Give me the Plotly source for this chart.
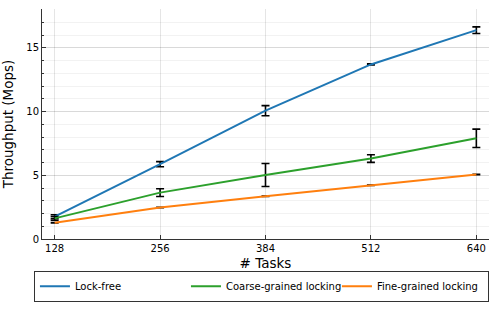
import plotly.graph_objects as go

tasks = [128, 256, 384, 512, 640]

lock_free = [1.75, 5.87, 10.07, 13.70, 16.39]
lock_free_err = [0.15, 0.2, 0.4, 0.05, 0.26]

coarse = [1.62, 3.64, 5.02, 6.31, 7.90]
coarse_err = [0.15, 0.3, 0.9, 0.3, 0.72]

fine = [1.28, 2.47, 3.35, 4.22, 5.06]
fine_err = [0.02, 0.02, 0.02, 0.02, 0.02]

series = [
    ("Lock-free", lock_free, lock_free_err, "#1f77b4"),
    ("Coarse-grained locking", coarse, coarse_err, "#2ca02c"),
    ("Fine-grained locking", fine, fine_err, "#ff7f0e"),
]

fig = go.Figure()
for name, vals, errs, color in series:
    fig.add_trace(go.Scatter(
        x=tasks,
        y=vals,
        name=name,
        mode="lines",
        line=dict(color=color, width=2),
        error_y=dict(type="data", array=errs, visible=True,
                     color="black", thickness=1.6, width=4),
    ))

fig.update_layout(
    width=498,
    height=332,
    paper_bgcolor="white",
    plot_bgcolor="white",
    font=dict(family="DejaVu Sans", size=10, color="black"),
    margin=dict(l=42, r=9, t=9, b=93, autoexpand=False),
    showlegend=True,
    legend=dict(
        orientation="h",
        x=-0.018, xanchor="left",
        y=-0.138, yanchor="top",
        entrywidth=106, entrywidthmode="pixels",
        bordercolor="#333", borderwidth=1,
        font=dict(size=10),
    ),
    xaxis=dict(
        range=[112.64, 655.36],
        tickvals=tasks,
        ticks="inside", ticklen=4, tickcolor="#333",
        showline=True, linecolor="#333", linewidth=1,
        showgrid=True, gridcolor="rgba(0,0,0,0.1)", gridwidth=0.5,
        zeroline=False, automargin=False,
        title=dict(text="# Tasks", font=dict(size=13.5), standoff=5),
    ),
    yaxis=dict(
        range=[0, 18.05],
        tickvals=[0, 5, 10, 15],
        ticks="inside", ticklen=4, tickcolor="#333",
        showline=True, linecolor="#333", linewidth=1,
        showgrid=True, gridcolor="rgba(0,0,0,0.1)", gridwidth=0.5,
        zeroline=False, automargin=False,
        minor=dict(dtick=1, ticks="inside", ticklen=2, tickcolor="#333",
                   showgrid=True, gridcolor="rgba(0,0,0,0.05)", gridwidth=0.5),
        title=dict(text="Throughput (Mops)", font=dict(size=13.5), standoff=12),
    ),
)

# drop the default 8px page margin so the figure sits at the window corner
fig.write_html("out.html", config={"displayModeBar": False},
               post_script="document.body.style.margin = '0';")
